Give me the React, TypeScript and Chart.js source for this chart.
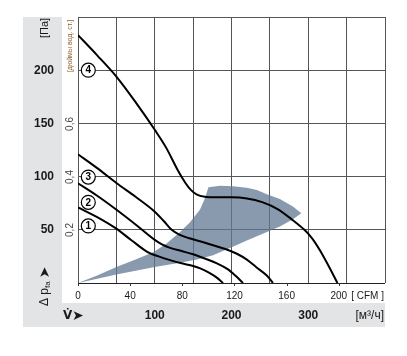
import React, { useEffect, useRef } from 'react';
import { Chart, registerables } from 'chart.js';

Chart.register(...registerables);

// unit conversions for the secondary scales
const CFM_TO_M3H = 1.699;
const INWG_TO_PA = 249.089;

// characteristic curves: flow [m³/h] vs static pressure [Pa]
const curve1X = [0, 25, 48, 70, 92, 105, 120, 135, 150, 160, 170, 180, 189];
const curve1P = [71, 62, 52, 40, 28.5, 25, 21.5, 18.5, 16, 13.5, 10, 5.5, 0];

const curve2X = [0, 25, 48, 75, 100, 110, 120, 135, 150, 165, 181, 195, 205, 215];
const curve2P = [93.7, 82, 70, 55, 40.5, 36, 33, 30, 27, 23, 18.5, 13, 7, 0];

const curve3X = [0, 25, 50, 75, 100, 112, 122, 132, 145, 160, 176, 192, 207, 220, 232, 246, 254];
const curve3P = [121, 108, 94, 81, 67, 58, 50, 45.5, 42, 39, 35.5, 32, 27.5, 22, 15, 7, 0];

const curve4X = [0, 25, 50, 75, 100, 115, 130, 140, 147, 155, 165, 180, 200, 220, 240, 260, 280, 295, 305, 315, 325, 338];
const curve4P = [233, 214, 194, 170, 144, 127, 106, 94, 87.5, 83, 81, 80.5, 80.5, 79.5, 76, 69.5, 59, 50, 42, 31, 18, 0];

// operating range (shaded area)
const shadeUpperX = [0, 25, 50, 75, 98, 115, 133, 146, 159, 165, 170, 185, 202, 220, 233, 246, 263, 280, 291];
const shadeUpperP = [0, 7, 15, 22, 29, 37, 48, 57, 69, 79, 90, 91.5, 91, 89.5, 87.5, 83.5, 79, 72, 65.5];
const shadeLowerX = [0, 25, 50, 75, 100, 133, 155, 176, 198, 220, 240, 263, 280, 291];
const shadeLowerP = [0, 4, 8, 11.5, 15, 19, 22, 26, 33, 40, 46, 53, 60, 65.5];

// curve number markers
const markerNames = ['1', '2', '3', '4'];
const markerX = [13.4, 13.4, 13.4, 13.4];
const markerP = [53.6, 75.8, 99.6, 200];

// tick labels
const paTicks = [50, 100, 150, 200];
const m3hTicks = [100, 200, 300];
const cfmTicks = [0, 40, 80, 120, 160, 200];
const inchTicks = [0.2, 0.4, 0.6];

const zip = (xs: number[], ys: number[]) => xs.map((x, i) => ({ x, y: ys[i] }));

const FONT = '"Liberation Sans", Arial, sans-serif';

const decorPlugin = {
  id: 'decor',
  beforeDraw(chart: any) {
    const { ctx, chartArea } = chart;
    const { left, right, top, bottom } = chartArea;
    ctx.save();
    ctx.fillStyle = '#e3e4e5';
    ctx.fillRect(left - 55, top, right - (left - 55), bottom + 44 - top);
    ctx.fillStyle = '#ffffff';
    ctx.fillRect(left - 16, top, right - (left - 16), bottom + 20 - top);
    ctx.restore();
  },
  afterDraw(chart: any) {
    const { ctx, chartArea, scales } = chart;
    const { left, right, top, bottom } = chartArea;
    const xs = scales.x;
    const ys = scales.y;
    ctx.save();
    ctx.fillStyle = '#1a1a1a';

    // Pa labels
    ctx.font = `bold 12px ${FONT}`;
    ctx.textAlign = 'right';
    ctx.textBaseline = 'middle';
    paTicks.forEach((v) => ctx.fillText(String(v), left - 24, ys.getPixelForValue(v)));

    // m³/h labels
    ctx.textAlign = 'center';
    m3hTicks.forEach((v) => ctx.fillText(String(v), xs.getPixelForValue(v), bottom + 33));
    ctx.font = `12px ${FONT}`;
    ctx.textAlign = 'right';
    ctx.fillText('[м³/ч]', right - 1, bottom + 33);

    // V dot arrow
    ctx.textAlign = 'left';
    ctx.font = `bold 12px "DejaVu Sans", sans-serif`;
    ctx.fillText('V\u0307', left - 15, bottom + 33);
    ctx.font = `14px "DejaVu Sans", sans-serif`;
    ctx.fillText('➤', left - 6, bottom + 33);

    // CFM labels and ticks
    ctx.font = `10px ${FONT}`;
    ctx.textAlign = 'center';
    ctx.strokeStyle = '#333';
    ctx.lineWidth = 1;
    cfmTicks.forEach((v) => {
      const px = xs.getPixelForValue(v * CFM_TO_M3H);
      ctx.fillText(String(v), px, bottom + 13);
      ctx.beginPath();
      ctx.moveTo(Math.round(px) + 0.5, bottom);
      ctx.lineTo(Math.round(px) + 0.5, bottom + 3);
      ctx.stroke();
    });
    ctx.textAlign = 'right';
    ctx.fillText('[ CFM ]', right - 1, bottom + 13);

    // inch labels (rotated)
    ctx.fillStyle = '#444';
    ctx.font = `10px ${FONT}`;
    inchTicks.forEach((v) => {
      const py = ys.getPixelForValue(v * INWG_TO_PA);
      ctx.save();
      ctx.translate(left - 8, py);
      ctx.rotate(-Math.PI / 2);
      ctx.textAlign = 'center';
      ctx.textBaseline = 'middle';
      ctx.fillText(String(v).replace('.', ','), 0, 0);
      ctx.restore();
    });

    // [дюймы вод. ст.]
    ctx.save();
    ctx.translate(left - 8, top + 29);
    ctx.rotate(-Math.PI / 2);
    ctx.textAlign = 'center';
    ctx.textBaseline = 'middle';
    ctx.fillStyle = '#8f5f2a';
    ctx.font = `7px ${FONT}`;
    ctx.fillText('[дюймы вод. ст.]', 0, 0);
    ctx.restore();

    // [Па]
    ctx.save();
    ctx.translate(left - 33, top + 11);
    ctx.rotate(-Math.PI / 2);
    ctx.textAlign = 'center';
    ctx.textBaseline = 'middle';
    ctx.fillStyle = '#1a1a1a';
    ctx.font = `11px ${FONT}`;
    ctx.fillText('[Па]', 0, 0);
    ctx.restore();

    // Δ p_fa ➤
    ctx.save();
    ctx.translate(left - 33, bottom + 23);
    ctx.rotate(-Math.PI / 2);
    ctx.textAlign = 'left';
    ctx.textBaseline = 'middle';
    ctx.fillStyle = '#1a1a1a';
    ctx.font = `12px ${FONT}`;
    ctx.fillText('Δ p', 0, 0);
    let w = ctx.measureText('Δ p').width;
    ctx.font = `8px ${FONT}`;
    ctx.fillText('fa', w, 3);
    w += ctx.measureText('fa').width + 3;
    ctx.font = `14px "DejaVu Sans", sans-serif`;
    ctx.fillText('➤', w, 0);
    ctx.restore();

    // marker numbers
    ctx.fillStyle = '#000';
    ctx.font = `bold 10px ${FONT}`;
    ctx.textAlign = 'center';
    ctx.textBaseline = 'middle';
    markerNames.forEach((n, i) => {
      ctx.fillText(n, xs.getPixelForValue(markerX[i]), ys.getPixelForValue(markerP[i]) + 0.5);
    });
    ctx.restore();
  },
};

export default function App() {
  const ref = useRef<HTMLCanvasElement | null>(null);
  useEffect(() => {
    if (!ref.current) return;
    const curveStyle = {
      borderColor: '#000',
      borderWidth: 2,
      pointRadius: 0,
      fill: false,
      cubicInterpolationMode: 'monotone' as const,
      order: 2,
    };
    const chart = new Chart(ref.current, {
      type: 'line',
      data: {
        datasets: [
          {
            data: zip(shadeUpperX, shadeUpperP),
            borderColor: 'rgba(0,0,0,0)',
            borderWidth: 0,
            pointRadius: 0,
            tension: 0,
            fill: '+1',
            backgroundColor: 'rgba(98,120,148,0.75)',
            order: 10,
          },
          {
            data: zip(shadeLowerX, shadeLowerP),
            borderColor: 'rgba(0,0,0,0)',
            borderWidth: 0,
            pointRadius: 0,
            tension: 0,
            fill: false,
            order: 11,
          },
          { data: zip(curve1X, curve1P), ...curveStyle },
          { data: zip(curve2X, curve2P), ...curveStyle },
          { data: zip(curve3X, curve3P), ...curveStyle },
          { data: zip(curve4X, curve4P), ...curveStyle },
          {
            data: zip(markerX, markerP),
            showLine: false,
            pointRadius: 7,
            pointHoverRadius: 7,
            pointBackgroundColor: '#fff',
            pointBorderColor: '#000',
            pointBorderWidth: 1.2,
            order: 0,
          },
        ] as any,
      },
      options: {
        responsive: false,
        animation: false,
        devicePixelRatio: 1,
        layout: { padding: { left: 78, right: 22, top: 17, bottom: 73 } },
        plugins: { legend: { display: false }, tooltip: { enabled: false } },
        events: [],
        scales: {
          x: {
            type: 'linear',
            min: 0,
            max: 400,
            ticks: { display: false, stepSize: 50 },
            grid: { color: '#555', lineWidth: 1, drawTicks: false },
            border: { display: false },
          },
          y: {
            type: 'linear',
            min: 0,
            max: 250,
            ticks: { display: false, stepSize: 50 },
            grid: {
              color: (c: any) => (c.tick && c.tick.value === 0 ? '#222' : '#555'),
              lineWidth: 1,
              drawTicks: false,
            },
            border: { display: false },
          },
        },
      },
      plugins: [decorPlugin],
    });
    return () => chart.destroy();
  }, []);
  return (
    <div style={{ position: 'fixed', left: 0, top: 0, width: 407, height: 356, background: '#fff' }}>
      <canvas ref={ref} width={407} height={356} style={{ width: 407, height: 356, display: 'block' }} />
    </div>
  );
}
